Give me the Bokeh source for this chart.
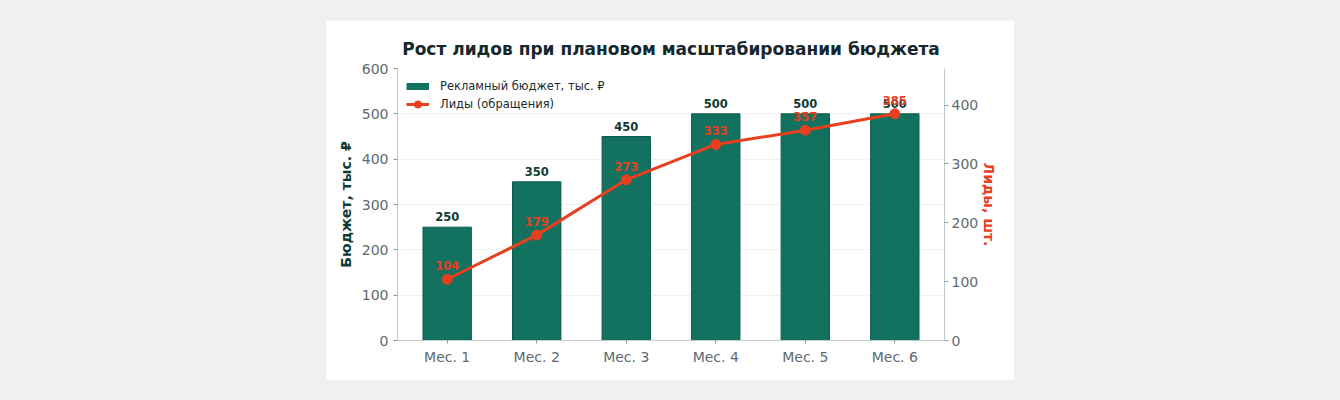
from bokeh.plotting import figure
from bokeh.models import (ColumnDataSource, FactorRange, Range1d, LinearAxis,
                          Legend, LegendItem, FixedTicker, GlobalInlineStyleSheet)
from bokeh.layouts import column
from bokeh.embed import file_html
from bokeh.resources import INLINE
from bokeh.core.properties import value

months = ["Мес. 1", "Мес. 2", "Мес. 3", "Мес. 4", "Мес. 5", "Мес. 6"]
budget = [250, 350, 450, 500, 500, 500]
leads = [104, 179, 273, 333, 357, 385]
budget_ticks = [0, 100, 200, 300, 400, 500, 600]
leads_ticks = [0, 100, 200, 300, 400]

FONT = "DejaVu Sans"
TEAL = "#12715f"
TEAL_EDGE = "#0c5a4b"
RED = "#e8401f"
DARK = "#0f3b34"
TICK = "#5b6b70"
AXIS = "#bccbc8"
PAGE_BG = "#f0f0f0"

src = ColumnDataSource(dict(
    x=months, budget=budget, leads=leads,
    btxt=[str(v) for v in budget], ltxt=[str(v) for v in leads],
))

p = figure(
    width=688, height=360,
    x_range=FactorRange(*months, range_padding=0.055, range_padding_units="absolute"),
    y_range=Range1d(0, 600),
    output_backend="svg", toolbar_location=None,
    title="Рост лидов при плановом масштабировании бюджета",
    min_border_left=71, min_border_right=70, min_border_top=48, min_border_bottom=40,
)
p.background_fill_color = "white"
p.border_fill_color = "white"
p.outline_line_color = None

p.title.align = "center"
p.title.text_font = FONT
p.title.text_font_size = "17px"
p.title.text_font_style = "bold"
p.title.text_color = "#16272d"
p.title.standoff = 20

p.extra_y_ranges = {"leads": Range1d(0, 462)}

# bars
bars = p.vbar(x="x", top="budget", width=0.54, source=src,
              fill_color=TEAL, line_color=TEAL_EDGE, line_width=1)
p.text(x="x", y="budget", text="btxt", source=src,
       text_align="center", text_baseline="bottom", y_offset=-6,
       text_font=value(FONT), text_font_size="11.5px", text_font_style="bold",
       text_color=DARK)

# leads line
ln = p.line(x="x", y="leads", source=src, y_range_name="leads",
            line_color=RED, line_width=3)
sc = p.scatter(x="x", y="leads", source=src, y_range_name="leads",
               size=10, fill_color=RED, line_color=RED)
p.text(x="x", y="leads", text="ltxt", source=src, y_range_name="leads",
       text_align="center", text_baseline="bottom", y_offset=-9,
       text_font=value(FONT), text_font_size="11.5px", text_font_style="bold",
       text_color=RED)

# legend swatch for bars (single point line, draws nothing in the plot)
swatch = p.line(x=[months[0]], y=[-100], line_color=TEAL, line_width=7)

legend = Legend(items=[
    LegendItem(label="Рекламный бюджет, тыс. ₽", renderers=[swatch]),
    LegendItem(label="Лиды (обращения)", renderers=[ln, sc]),
], location="top_left")
legend.margin = 0
legend.padding = 9
legend.spacing = 0
legend.glyph_width = 23
legend.glyph_height = 18
legend.label_height = 18
legend.label_standoff = 11
legend.label_text_font = FONT
legend.label_text_font_size = "11.5px"
legend.label_text_color = "#1d2b30"
legend.background_fill_alpha = 0
legend.border_line_alpha = 0
p.add_layout(legend)

# grid
p.xgrid.grid_line_color = None
p.ygrid.grid_line_color = "#edf1f1"
p.ygrid.grid_line_width = 1
p.yaxis.ticker = FixedTicker(ticks=budget_ticks)

def style_axis(ax):
    ax.axis_line_color = AXIS
    ax.major_tick_line_color = "#8a9a9c"
    ax.major_tick_out = 4
    ax.major_tick_in = 0
    ax.minor_tick_line_color = None
    ax.major_label_text_font = FONT
    ax.major_label_text_font_size = "14px"
    ax.major_label_text_color = TICK
    ax.axis_label_text_font = FONT
    ax.axis_label_text_font_size = "14px"
    ax.axis_label_text_font_style = "bold"

style_axis(p.xaxis[0])
p.xaxis[0].major_tick_out = 3
style_axis(p.yaxis[0])
p.yaxis[0].axis_label = "Бюджет, тыс. ₽"
p.yaxis[0].axis_label_text_color = DARK

right = LinearAxis(y_range_name="leads", ticker=FixedTicker(ticks=leads_ticks),
                   axis_label="Лиды, шт.")
style_axis(right)
right.axis_label_text_color = RED
right.axis_label_standoff = 0
right.major_label_standoff = 3
p.add_layout(right, "right")

p.align = "center"
p.margin = (20, 0, 0, 0)
css = "html, body { background: %s !important; }" % PAGE_BG
layout = column(p, sizing_mode="stretch_width",
                stylesheets=[GlobalInlineStyleSheet(css=css)])

html = file_html(layout, INLINE)
html = html.replace("</head>", "<style>%s</style></head>" % css, 1)
open("out.html", "w").write(html)
